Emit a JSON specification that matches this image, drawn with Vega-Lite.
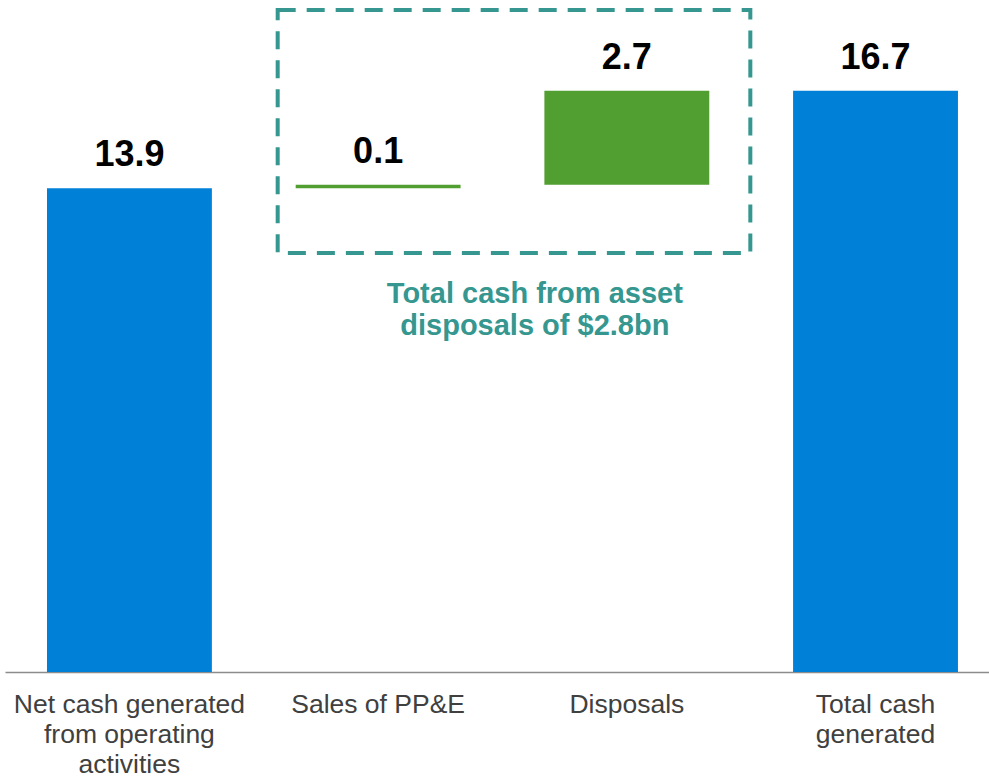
{
  "$schema": "https://vega.github.io/schema/vega-lite/v6.json",
  "width": 984,
  "height": 672,
  "autosize": "none",
  "padding": {"left": 5, "top": 0, "right": 0, "bottom": 107},
  "background": "white",
  "config": {"view": {"stroke": null}, "font": "Liberation Sans"},
  "datasets": {
    "bars": [
      {"cat": "Net cash generated|from operating|activities", "start": 0, "end": 13.9, "label": "13.9", "kind": "total"},
      {"cat": "Sales of PP&E", "start": 13.9, "end": 14.0, "label": "0.1", "kind": "step"},
      {"cat": "Disposals", "start": 14.0, "end": 16.7, "label": "2.7", "kind": "step"},
      {"cat": "Total cash|generated", "start": 0, "end": 16.7, "label": "16.7", "kind": "total"}
    ],
    "box": [
      {"from": "Sales of PP&E", "to": "Disposals", "low": 12.04, "high": 19.02}
    ],
    "note": [
      {"cat": "Disposals", "y": 10.6, "text": "Total cash from asset|disposals of $2.8bn"}
    ]
  },
  "layer": [
    {
      "data": {"name": "bars"},
      "mark": {"type": "bar"},
      "encoding": {
        "x": {
          "field": "cat", "type": "nominal", "sort": null,
          "scale": {
            "domain": ["Net cash generated|from operating|activities", "Sales of PP&E", "Disposals", "Total cash|generated"],
            "paddingInner": 0.337, "paddingOuter": 0.1468, "align": 0.575
          },
          "axis": {
            "title": null, "labelAngle": 0, "ticks": false,
            "domainColor": "#8c8c8c", "domainWidth": 1.5,
            "labelFont": "Liberation Sans", "labelFontSize": 26.5, "labelColor": "#404040",
            "labelPadding": 19, "labelLineHeight": 30, "labelBaseline": "top",
            "labelExpr": "split(datum.label, '|')", "labelLimit": 300
          }
        },
        "y": {
          "field": "start", "type": "quantitative",
          "scale": {"domain": [0, 19.31], "nice": false, "zero": true},
          "axis": null
        },
        "y2": {"field": "end"},
        "color": {
          "field": "kind", "type": "nominal",
          "scale": {"domain": ["total", "step"], "range": ["#0080D7", "#519E31"]},
          "legend": null
        }
      }
    },
    {
      "data": {"name": "bars"},
      "mark": {"type": "text", "font": "Liberation Sans", "fontWeight": "bold", "fontSize": 36, "baseline": "alphabetic", "dy": -22, "color": "#000000"},
      "encoding": {
        "x": {"field": "cat", "type": "nominal", "sort": null},
        "y": {"field": "end", "type": "quantitative"},
        "text": {"field": "label"}
      }
    },
    {
      "data": {"name": "box"},
      "mark": {"type": "rect", "fill": null, "fillOpacity": 0, "stroke": "#35978F", "strokeWidth": 4, "strokeDash": [18, 11], "xOffset": -18, "x2Offset": 123.5},
      "encoding": {
        "x": {"field": "from", "type": "nominal", "sort": null, "bandPosition": 0},
        "x2": {"field": "to"},
        "y": {"field": "low", "type": "quantitative"},
        "y2": {"field": "high"}
      }
    },
    {
      "data": {"name": "note"},
      "mark": {"type": "text", "font": "Liberation Sans", "fontWeight": "bold", "fontSize": 29, "lineBreak": "|", "lineHeight": 32, "baseline": "alphabetic", "color": "#35978F", "dx": -92},
      "encoding": {
        "x": {"field": "cat", "type": "nominal", "sort": null},
        "y": {"field": "y", "type": "quantitative"},
        "text": {"field": "text"}
      }
    }
  ]
}
